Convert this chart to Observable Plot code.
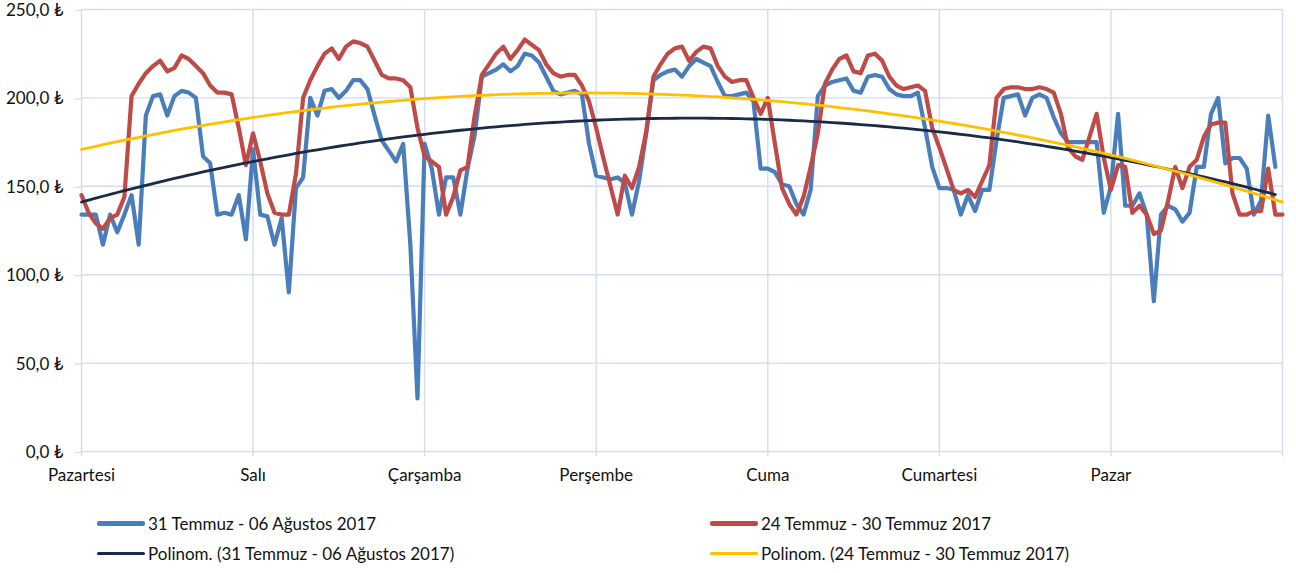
<!DOCTYPE html>
<html><head><meta charset="utf-8">
<script src="https://cdn.jsdelivr.net/npm/d3@7"></script>
<script src="https://cdn.jsdelivr.net/npm/@observablehq/plot@0.6"></script>
<style>
body{margin:0;background:#fff;font-family:Lato, "Noto Sans", sans-serif;}
#chart{position:relative;width:1296px;height:573px;overflow:hidden}
.item{position:absolute;display:flex;align-items:center;white-space:nowrap;font-size:17px;color:#111;height:20px}
.sw{display:inline-block;width:48px;margin-right:3px;border-radius:2px}
</style></head><body><div id="chart"></div>
<script>
const days = ["Pazartesi","Salı","Çarşamba","Perşembe","Cuma","Cumartesi","Pazar"];
const yTicks = [0,50,100,150,200,250];
const seriesNames = ["31 Temmuz - 06 Ağustos 2017","24 Temmuz - 30 Temmuz 2017"];
const trendNames = ["Polinom. (31 Temmuz - 06 Ağustos 2017)","Polinom. (24 Temmuz - 30 Temmuz 2017)"];
// hourly values, 31 Temmuz - 06 Ağustos 2017
const blue = [134,134,134,117,134,124,134,145,117,190,201,202,190,201,204,203,200,167,163,134,135,134,145,120,
171,134,133,117,132,90,149,155,200,190,204,205,200,204,210,210,205,190,176,170,164,174,117,30,
174,160,134,155,155,134,160,179,212,214,216,219,215,218,225,224,220,212,204,202,203,204,202,174,
156,155,154,155,152,134,153,180,210,213,215,216,212,218,222,220,218,209,201,201,202,203,198,160,
160,158,151,150,140,134,148,201,207,209,210,211,204,203,212,213,212,205,202,201,201,203,183,161,
149,149,148,134,145,136,148,148,176,200,201,202,190,200,202,200,189,180,175,175,175,175,175,135,
150,191,139,139,146,134,85,134,139,137,130,135,161,161,191,200,163,166,166,160,134,142,190,161];
// hourly values, 24 Temmuz - 30 Temmuz 2017
const red = [145,135,129,126,132,134,144,201,208,214,218,221,215,217,224,222,218,214,207,203,203,202,183,162,
180,164,146,135,134,134,157,200,210,218,225,228,222,229,232,231,229,221,213,211,211,210,206,183,
167,164,161,134,144,159,161,190,213,219,225,229,222,227,233,230,227,219,214,212,213,213,207,198,
183,166,150,134,156,149,161,181,212,219,225,228,229,221,226,229,228,218,212,209,210,210,200,191,
200,174,149,140,134,144,161,180,208,216,222,224,215,214,224,225,221,212,207,205,206,207,204,183,
172,160,148,146,148,144,153,162,200,205,206,206,205,205,206,205,203,191,172,167,165,178,191,166,
148,162,161,135,139,134,123,125,142,161,149,161,165,178,185,186,186,146,134,134,136,136,160,134,134];

function polyfit2(ys){
  // least-squares quadratic trend (Excel "Polinom." order 2)
  const n = ys.length; let S=[0,0,0,0,0], T=[0,0,0];
  ys.forEach((y,i)=>{let p=1;for(let k=0;k<5;k++){S[k]+=p; if(k<3) T[k]+=p*y; p*=i;}});
  const A=[[S[0],S[1],S[2],T[0]],[S[1],S[2],S[3],T[1]],[S[2],S[3],S[4],T[2]]];
  for(let c=0;c<3;c++){for(let r=c+1;r<3;r++){const f=A[r][c]/A[c][c];for(let k=c;k<4;k++)A[r][k]-=f*A[c][k];}}
  const x=[0,0,0];
  for(let r=2;r>=0;r--){let s=A[r][3];for(let k=r+1;k<3;k++)s-=A[r][k]*x[k];x[r]=s/A[r][r];}
  return ys.map((_,i)=>x[0]+x[1]*i+x[2]*i*i);
}
const blueTrend = polyfit2(blue), redTrend = polyfit2(red);
const colors = {blue:"#4a7ebb", red:"#be4b48", dark:"#1b2a47", yellow:"#ffc000"};
const grid = "#d3ddee";
const idx = (d,i)=>i, val = d=>d;

const chart = Plot.plot({
  width:1296, height:496,
  marginLeft:81, marginRight:14, marginTop:9, marginBottom:45,
  x:{domain:[0,168]}, y:{domain:[0,250]},
  style:{fontFamily:"Lato, 'Noto Sans', sans-serif", fontSize:"17px", color:"#111", background:"#fff"},
  marks:[
    Plot.gridY(yTicks,{stroke:grid, strokeOpacity:1, strokeWidth:1.4}),
    Plot.gridX(d3.range(0,169,24),{stroke:grid, strokeOpacity:1, strokeWidth:1.4}),
    Plot.axisY(yTicks,{tickFormat:d=>d.toFixed(1).replace(".",",")+" ₺", tickSize:6, tickPadding:12, stroke:grid, strokeOpacity:1, strokeWidth:1.4, fill:"#111", label:null, fontSize:17, dy:1}),
    Plot.axisX(d3.range(0,169,24),{tickFormat:d=>days[d/24] ?? "", tickSize:5, tickPadding:12, stroke:grid, strokeOpacity:1, strokeWidth:1.4, fill:"#111", label:null, fontSize:17}),
    Plot.lineY(blue,{x:idx, y:val, stroke:colors.blue, strokeWidth:4.2, strokeLinejoin:"round"}),
    Plot.lineY(red,{x:idx, y:val, stroke:colors.red, strokeWidth:4.2, strokeLinejoin:"round"}),
    Plot.lineY(blueTrend,{x:idx, y:val, stroke:colors.dark, strokeWidth:2.8}),
    Plot.lineY(redTrend,{x:idx, y:val, stroke:colors.yellow, strokeWidth:2.8})
  ]
});
const root = document.getElementById("chart");
chart.style.position="absolute"; chart.style.left="0"; chart.style.top="0";
root.appendChild(chart);
const legend = [
  {name:seriesNames[0], c:colors.blue, w:5, x:97, y:523},
  {name:trendNames[0], c:colors.dark, w:3, x:97, y:553},
  {name:seriesNames[1], c:colors.red, w:5, x:710, y:523},
  {name:trendNames[1], c:colors.yellow, w:3, x:710, y:553}
];
legend.forEach(l=>{
  const d=document.createElement("div"); d.className="item";
  d.style.left=l.x+"px"; d.style.top=(l.y-10)+"px";
  const s=document.createElement("span"); s.className="sw"; s.style.height=l.w+"px"; s.style.background=l.c;
  d.appendChild(s); d.appendChild(document.createTextNode(l.name)); root.appendChild(d);
});
</script></body></html>
